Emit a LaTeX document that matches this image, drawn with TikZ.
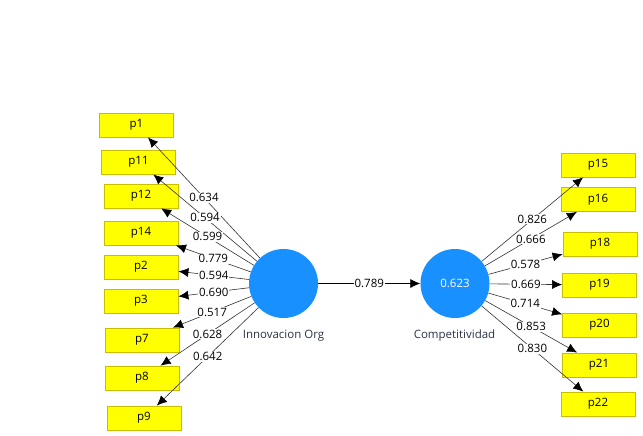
\documentclass[tikz,border=0pt]{standalone}
\usepackage{fontspec}
\setmainfont{Open Sans}
\usetikzlibrary{arrows.meta}
\definecolor{lvblue}{RGB}{24,144,255}
\definecolor{boxyel}{RGB}{255,255,0}
\definecolor{boxedge}{RGB}{200,190,0}
\definecolor{lvtext}{RGB}{40,50,70}
\definecolor{linegray}{RGB}{50,50,50}
\tikzset{
  ind/.style={draw=boxedge, fill=boxyel, line width=0.8pt, minimum width=74pt, minimum height=24pt, inner sep=0pt, font=\fontsize{11.5}{13}\selectfont},
  lv/.style={circle, fill=lvblue, minimum size=69pt, inner sep=0pt, text=white, font=\fontsize{11.5}{13}\selectfont},
  lvlabel/.style={text=lvtext, font=\fontsize{11.5}{13}\selectfont},
  conn/.style={draw=linegray, line width=0.6pt, -{Latex[length=10pt,width=9pt,fill=black,color=black]}},
  wt/.style={fill=white, inner sep=0.8pt, text=black, font=\fontsize{11.5}{13}\selectfont}
}
\begin{document}
\begin{tikzpicture}[x=1pt,y=-1pt]
\useasboundingbox (0,0) rectangle (643,436);
% latent variables
\node[lv] (io) at (283.5,283.5) {};
\node[lv] (co) at (455,283.5) {0.623};
\node[lvlabel] (iol) at (283.5,336) {Innovacion Org};
\node[lvlabel] (col) at (454.5,336) {Competitividad};
% left indicators
\node[ind] (p1) at (136.5,125) {p1};
\node[ind] (p11) at (138.5,162) {p11};
\node[ind] (p12) at (141,196) {p12};
\node[ind] (p14) at (141,233) {p14};
\node[ind] (p2) at (141,267) {p2};
\node[ind] (p3) at (141,301) {p3};
\node[ind] (p7) at (142,340) {p7};
\node[ind] (p8) at (142,378) {p8};
\node[ind] (p9) at (144,418) {p9};
% right indicators
\node[ind] (p15) at (598,165) {p15};
\node[ind] (p16) at (598,199.5) {p16};
\node[ind] (p18) at (600,244) {p18};
\node[ind] (p19) at (599.5,285) {p19};
\node[ind] (p20) at (599.5,325) {p20};
\node[ind] (p21) at (599,365) {p21};
\node[ind] (p22) at (598,404) {p22};
% outer loadings left
\draw[conn] (io) -- node[wt]{0.634} (p1);
\draw[conn] (io) -- node[wt]{0.594} (p11);
\draw[conn] (io) -- node[wt]{0.599} (p12);
\draw[conn] (io) -- node[wt]{0.779} (p14);
\draw[conn] (io) -- node[wt]{0.594} (p2);
\draw[conn] (io) -- node[wt]{0.690} (p3);
\draw[conn] (io) -- node[wt]{0.517} (p7);
\draw[conn] (io) -- node[wt]{0.628} (p8);
\draw[conn] (io) -- node[wt]{0.642} (p9);
% outer loadings right
\draw[conn] (co) -- node[wt]{0.826} (p15);
\draw[conn] (co) -- node[wt]{0.666} (p16);
\draw[conn] (co) -- node[wt]{0.578} (p18);
\draw[conn] (co) -- node[wt]{0.669} (p19);
\draw[conn] (co) -- node[wt]{0.714} (p20);
\draw[conn] (co) -- node[wt]{0.853} (p21);
\draw[conn] (co) -- node[wt]{0.830} (p22);
% path coefficient
\draw[conn, draw=black] (io) -- node[wt]{0.789} (co);
\end{tikzpicture}
\end{document}
